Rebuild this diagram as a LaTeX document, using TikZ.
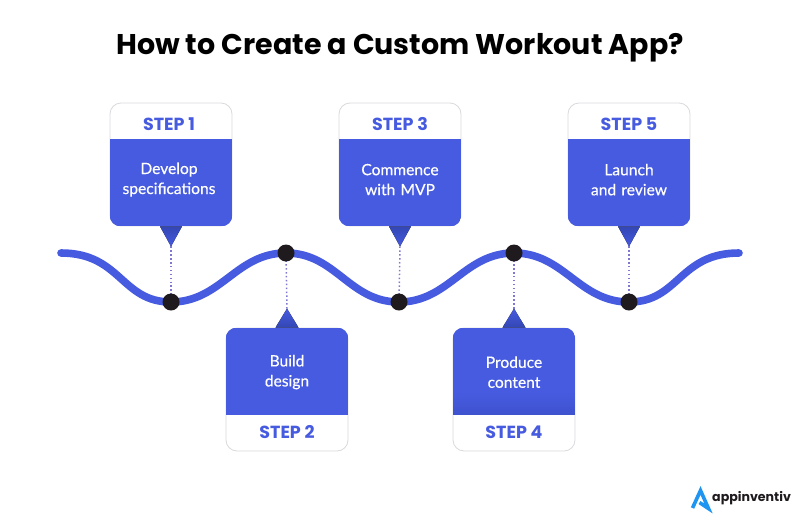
\documentclass[tikz,border=0pt]{standalone}
\usepackage{fontspec}
\setmainfont{Lato}[FakeBold=0.35]
\newfontfamily\headfont{Poppins}
\usetikzlibrary{calc}
\definecolor{brandblue}{HTML}{465BE0}
\definecolor{branddark}{HTML}{3346B4}
\definecolor{banddark}{HTML}{3F53D0}
\definecolor{inkdark}{HTML}{1E1A1D}
\definecolor{edgegrey}{HTML}{DADADE}
\definecolor{dotline}{HTML}{7F78D2}
\definecolor{logoblue}{HTML}{1F95F2}
\tikzset{
  x=1pt,y=-1pt,
  card/.style={draw=edgegrey,line width=.8pt,fill=white,rounded corners=11pt,minimum width=122pt,minimum height=123pt,inner sep=0pt},
  stepname/.style={font=\headfont\bfseries\fontsize{17.5}{18}\selectfont,text=brandblue,inner sep=0pt},
  bodytext/.style={font=\fontsize{15.6}{20}\selectfont,text=white,align=center,inner sep=0pt,text width=120pt},
  waypoint/.style={circle,minimum size=16.5pt,inner sep=0pt},
  wave/.style={draw=brandblue,line width=7.6pt,line cap=round},
  leader/.style={draw=dotline,line width=1.5pt,dash pattern=on 1.5pt off 2.4pt},
  pointer/.style={top color=branddark,bottom color=brandblue,draw=none},
  pointerup/.style={top color=brandblue,bottom color=branddark,draw=none}
}
% card opening downward: white header on top, blue body below; #6 nudges the texts sideways
\newcommand{\downcard}[6]{%
  \node[card] (#1) at (#2,#3) {};
  \begin{scope}
    \clip[rounded corners=11pt] (#1.north west) rectangle (#1.south east);
    \fill[brandblue] ($(#1.north west)+(0,36)$) rectangle (#1.south east);
  \end{scope}
  \node[stepname] at ($(#1.north)+(#6,21.5)$) {#4};
  \node[bodytext] at ($(#1.north)+(#6,77)$) {#5};
  \fill[pointer] ($(#1.south)+(-11,0)$) -- ($(#1.south)+(11,0)$) -- ($(#1.south)+(0,20)$) coordinate (#1tip) -- cycle;
}
% card opening upward: blue body on top, white footer below;
% #6 is the colour the body fades to along its lower edge
\newcommand{\upcard}[6]{%
  \node[card] (#1) at (#2,#3) {};
  \begin{scope}
    \clip[rounded corners=11pt] (#1.north west) rectangle (#1.south east);
    \fill[brandblue] (#1.north west) rectangle ($(#1.south east)+(0,-36)$);
    \foreach \k in {0,...,11}{
      \pgfmathtruncatemacro{\share}{100-\k*100/11}
      \fill[brandblue!\share!#6] ($(#1.south west)+(0,-60+\k*2)$) rectangle ($(#1.south east)+(0,-36)$);
    }
  \end{scope}
  \node[stepname] at ($(#1.south)+(0,-19.5)$) {#4};
  \node[bodytext] at ($(#1.north)+(0,44.5)$) {#5};
  \fill[pointerup] ($(#1.north)+(-11.5,0)$) -- ($(#1.north)+(11.5,0)$) -- ($(#1.north)+(0,-19)$) coordinate (#1tip) -- cycle;
}
\begin{document}
\begin{tikzpicture}
\useasboundingbox (0,0) rectangle (800,520);

\node[font=\headfont\bfseries\fontsize{28.5}{30}\selectfont,text=black,inner sep=0pt] (title) at (400,48) {How to Create a Custom Workout App?};

% wave and its waypoints
\coordinate (waveL) at (61,253);
\coordinate (waveR) at (739,253);
\node[waypoint] (w1) at (171,302) {};
\node[waypoint] (w2) at (286,253) {};
\node[waypoint] (w3) at (399,302) {};
\node[waypoint] (w4) at (514,253) {};
\node[waypoint] (w5) at (629,302) {};
\draw[wave] (waveL) .. controls +(60,0) and +(-50,0) .. (w1.center)
  .. controls +(50,0) and +(-50,0) .. (w2.center)
  .. controls +(50,0) and +(-50,0) .. (w3.center)
  .. controls +(50,0) and +(-50,0) .. (w4.center)
  .. controls +(50,0) and +(-50,0) .. (w5.center)
  .. controls +(50,0) and +(-60,0) .. (waveR);

% step cards
\downcard{c1}{171}{164.5}{STEP 1}{Develop\\specifications}{-2}
\upcard{c2}{287}{389.5}{STEP 2}{Build\\design}{brandblue}
\downcard{c3}{400}{164.5}{STEP 3}{Commence\\with MVP}{0}
\upcard{c4}{514}{389.5}{STEP 4}{Produce\\content}{banddark}
\downcard{c5}{629}{164.5}{STEP 5}{Launch\\and review}{0}

% leaders from the pointers to the waypoints
\draw[leader] (c1tip) -- (w1.center);
\draw[leader] (c2tip) -- (w2.center);
\draw[leader] (c3tip) -- (w3.center);
\draw[leader] (c4tip) -- (w4.center);
\draw[leader] (c5tip) -- (w5.center);

\foreach \p in {w1,w2,w3,w4,w5}
  \fill[inkdark] (\p.center) circle (8.5);

% brand mark and wordmark
\draw[logoblue,line width=3.6pt,line join=miter,fill=none]
  (692.5,508) -- (700.5,490.5) -- (708.5,508.5) -- (699.5,502.5);
\node[anchor=west,font=\headfont\bfseries\fontsize{12.6}{14}\selectfont,text=inkdark,inner sep=0pt] (brand) at (712,498.5) {appinventiv};
\end{tikzpicture}
\end{document}
